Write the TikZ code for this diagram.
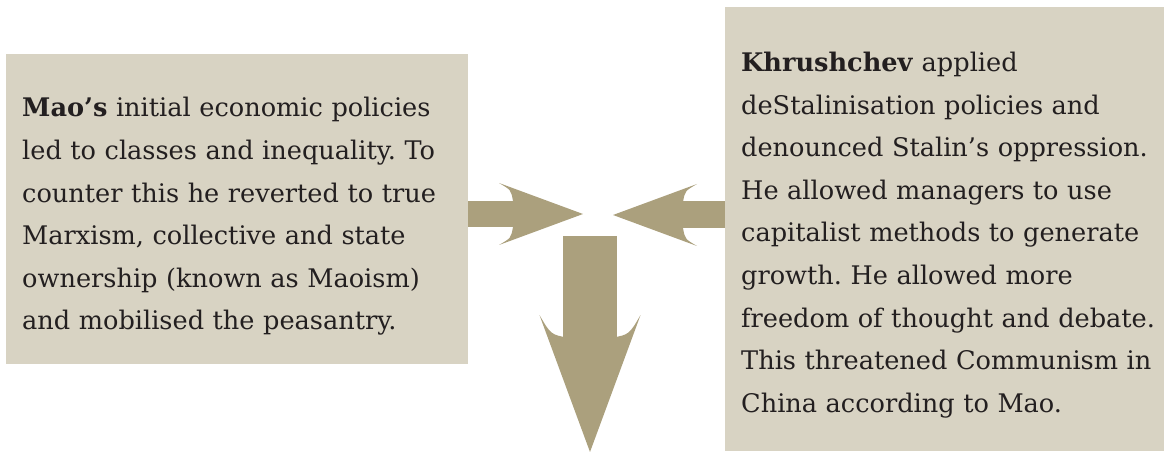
\documentclass[tikz,border=0pt]{standalone}
\usepackage{fontspec}
\setmainfont{DejaVu Serif}
\usetikzlibrary{positioning}
\definecolor{boxFill}{HTML}{D8D3C3}
\definecolor{arrowFill}{HTML}{ABA07D}
\definecolor{inkText}{HTML}{231F20}
\frenchspacing

\begin{document}
\begin{tikzpicture}[x=1bp, y=-1bp,
    panel/.style={rectangle, fill=boxFill, anchor=north west, inner xsep=16bp, inner ysep=0bp, align=left, text=inkText, font=\fontsize{25.6bp}{42.6bp}\selectfont},
    shaft/.style={draw=arrowFill, line width=#1},
    arrowhead/.pic={\fill[arrowFill] (0,0) -- (-84,-31) .. controls (-72,-24) .. (-70,-13) -- (-70,13) .. controls (-72,24) .. (-84,31) -- cycle;}
]
\useasboundingbox (0,0) rectangle (1164,453);

% Text panels
\node[panel, minimum width=462bp, minimum height=310bp, text width=430bp] (mao) at (6,54)
  {\rule{0pt}{34bp}\textbf{Mao’s} initial economic policies\\ led to classes and inequality. To\\ counter this he reverted to true\\ Marxism, collective and state\\ ownership (known as Maoism)\\ and mobilised the peasantry.};
\node[panel, minimum height=444bp, text width=430bp] (khru) at (725,7)
  {\rule{0pt}{31bp}\textbf{Khrushchev} applied\\ deStalinisation policies and\\ denounced Stalin’s oppression.\\ He allowed managers to use\\ capitalist methods to generate\\ growth. He allowed more\\ freedom of thought and debate.\\ This threatened Communism in\\ China according to Mao.};

% Arrow ends
\coordinate (maotip) at (583,214);
\coordinate (khrutip) at (613,215);
\coordinate (downstart) at (590,236);
\coordinate (downtip) at (590,452);

% Arrows
\draw[shaft=26bp] (mao.east |- maotip) -- ([xshift=-69]maotip);
\pic at (maotip) {arrowhead};
\draw[shaft=27bp] (khru.west |- khrutip) -- ([xshift=69]khrutip);
\pic[rotate=180] at (khrutip) {arrowhead};
\draw[shaft=54bp] (downstart) -- ([yshift=112]downtip);
\pic[rotate=-90, scale=1.63] at (downtip) {arrowhead};

\end{tikzpicture}
\end{document}
